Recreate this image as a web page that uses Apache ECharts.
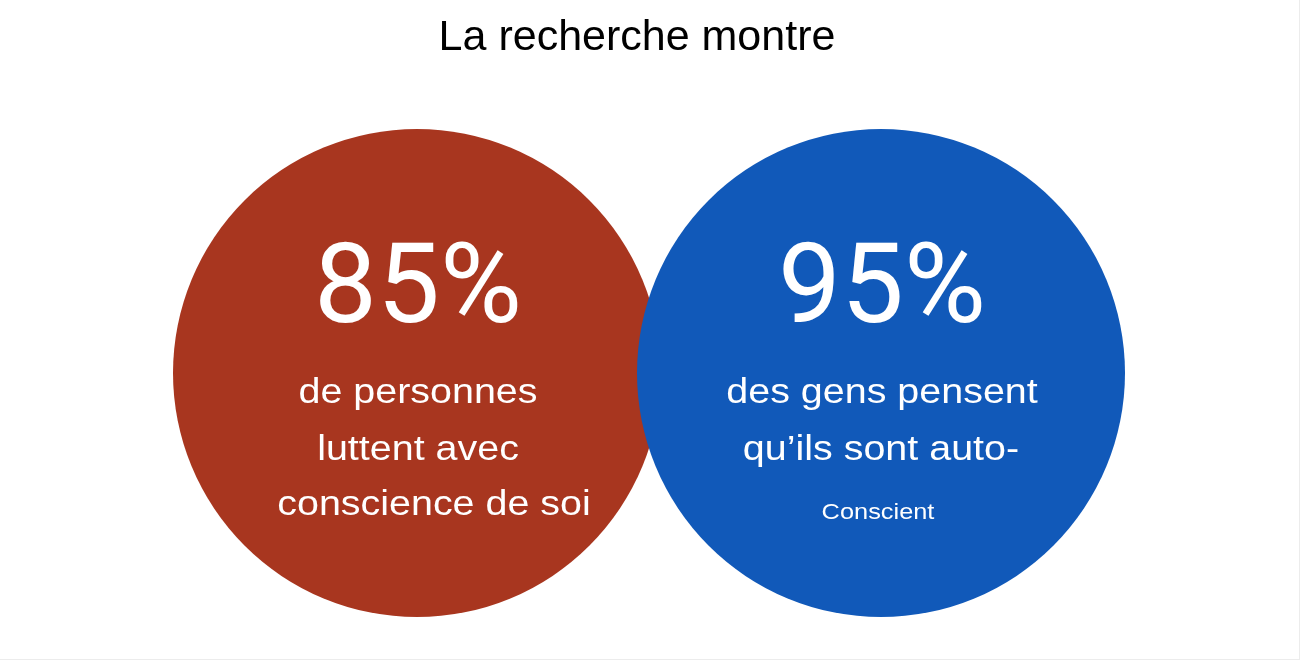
<!DOCTYPE html>
<html>
<head>
<meta charset="utf-8">
<script src="https://cdn.jsdelivr.net/npm/echarts@6/dist/echarts.min.js"></script>
<style>
  html, body { margin: 0; padding: 0; background: #ececec; }
  #chart { width: 1299px; height: 659px; background: #ffffff; }
</style>
</head>
<body>
<div id="chart"></div>
<script>
// ---- data ----
const titleText = 'La recherche montre';
const categories = ['Lutte', 'Perception'];
const percentValues = [85, 95];
const descriptionLines = [
  ['de personnes', 'luttent avec', 'conscience de soi'],
  ['des gens pensent', 'qu\u2019ils sont auto-', 'Conscient']
];

// ---- styles / layout ----
const circleColors = ['#A8361F', '#1159B9'];
const circleDiameter = 488;
const bodyFont = '"Liberation Sans", Arial, sans-serif';
const numberFont = 'Roboto, "Liberation Sans", sans-serif';
const numberLayout = { dy: -79, size: 112, scaleX: 1.0 };
// per line: offset from circle centre (dx, dy of text middle) and font size
const lineLayout = [
  [{ dx: 1, dy: 20, size: 35 }, { dx: 1, dy: 77, size: 35 }, { dx: 17, dy: 132, size: 35 }],
  [{ dx: 1, dy: 20, size: 35 }, { dx: 0, dy: 77, size: 35 }, { dx: -3, dy: 140, size: 22.5 }]
];
const bodyScaleX = 1.127;

const chart = echarts.init(document.getElementById('chart'), null, { renderer: 'canvas' });

chart.setOption({
  backgroundColor: '#ffffff',
  animation: false,
  grid: { left: 185, right: 186, top: 123, bottom: 36 },
  xAxis: { type: 'category', data: categories, show: false, boundaryGap: true },
  yAxis: { type: 'value', min: -1, max: 1, show: false },
  series: [{
    type: 'scatter',
    silent: true,
    symbol: 'circle',
    symbolSize: circleDiameter,
    z: 2,
    data: categories.map((c, i) => ({
      value: [c, 0],
      itemStyle: { color: circleColors[i], opacity: 1 }
    })),
    label: { show: false }
  }]
});

const graphics = [{
  type: 'text',
  x: 637,
  y: 38,
  z: 100,
  silent: true,
  style: {
    text: titleText,
    fill: '#000000',
    font: '43px ' + bodyFont,
    align: 'center', verticalAlign: 'middle',
    textAlign: 'center', textVerticalAlign: 'middle'
  }
}];

categories.forEach((c, i) => {
  const p = chart.convertToPixel({ xAxisIndex: 0, yAxisIndex: 0 }, [c, 0]);
  graphics.push({
    type: 'text',
    x: p[0] + 1,
    y: p[1] + numberLayout.dy,
    z: 100,
    scaleX: numberLayout.scaleX,
    silent: true,
    style: {
      text: percentValues[i] + '%',
      fill: '#ffffff',
      font: numberLayout.size + 'px ' + numberFont,
      align: 'center', verticalAlign: 'middle',
      textAlign: 'center', textVerticalAlign: 'middle'
    }
  });
  descriptionLines[i].forEach((line, j) => {
    const l = lineLayout[i][j];
    graphics.push({
      type: 'text',
      x: p[0] + l.dx,
      y: p[1] + l.dy,
      z: 100,
      scaleX: bodyScaleX,
      silent: true,
      style: {
        text: line,
        fill: '#ffffff',
        font: l.size + 'px ' + bodyFont,
        align: 'center', verticalAlign: 'middle',
        textAlign: 'center', textVerticalAlign: 'middle'
      }
    });
  });
});

chart.setOption({ graphic: { elements: graphics } });
</script>
</body>
</html>
